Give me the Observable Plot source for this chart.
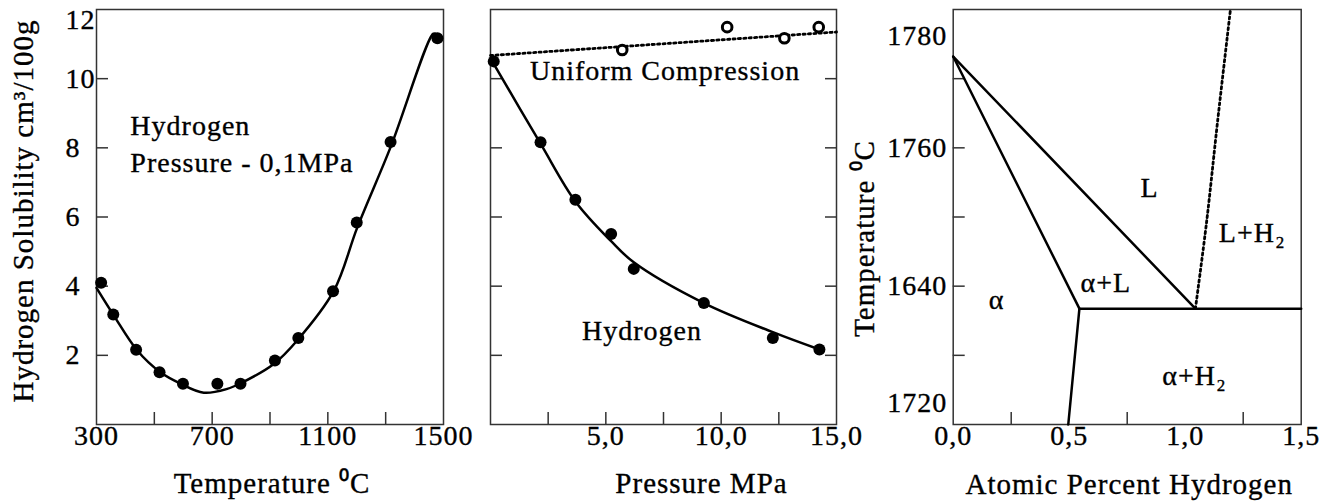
<!DOCTYPE html>
<html>
<head>
<meta charset="utf-8">
<script src="https://cdn.jsdelivr.net/npm/d3@7"></script>
<script src="https://cdn.jsdelivr.net/npm/@observablehq/plot@0.6"></script>
<style>
  html, body { margin: 0; padding: 0; background: #fff; }
  #chart { position: relative; width: 1328px; height: 504px; overflow: hidden; }
  #chart svg { position: absolute; top: 0; overflow: visible; background: transparent !important; }
  #chart svg, #chart svg text { font-family: "Liberation Serif", "Times New Roman", serif !important; letter-spacing: 1px; }
  #chart svg text { stroke: #000; stroke-width: 0.35px; }
</style>
</head>
<body>
<div id="chart"></div>
<script>
// ---------- Panel 1: solubility vs temperature (0.1 MPa) ----------
const tempMeasured   = [316, 358, 437, 518, 599, 718, 798, 917, 998, 1118, 1200, 1317, 1479];
const tempSolubility = [4.1, 3.18, 2.16, 1.51, 1.18, 1.18, 1.18, 1.85, 2.5, 3.85, 5.84, 8.17, 11.17];
const tempFitX = [300, 360, 441, 521, 591, 671, 752, 798, 913, 994, 1121, 1202, 1317, 1464, 1472];
const tempFitY = [3.95, 3.15, 2.14, 1.51, 1.18, 0.92, 1.03, 1.19, 1.75, 2.43, 3.87, 5.7, 8.02, 11.3, 11.3];
const tempTickLabels = [300, 700, 1100, 1500];
const tempMinorTicks = [500, 700, 900, 1100, 1300];
const solubilityTicks = [2, 4, 6, 8, 10];
const solubilityTopLabel = [12];
const tempNotes = ["Hydrogen", "Pressure - 0,1MPa"];
const tempNoteX = [417, 417];
const tempNoteY = [8.36, 7.3];

// ---------- Panel 2: solubility vs pressure ----------
const pressureMeasured   = [0.14, 2.17, 3.68, 5.23, 6.21, 9.25, 12.24, 14.26];
const pressureSolubility = [10.5, 8.16, 6.5, 5.51, 4.5, 3.51, 2.5, 2.17];
const pressureFitX = [0.14, 2.17, 3.68, 5.23, 6.21, 9.25, 12.24, 14.26];
const pressureFitY = [10.43, 8.12, 6.45, 5.3, 4.69, 3.51, 2.67, 2.17];
const compressionMeasured   = [5.71, 10.26, 12.74, 14.23];
const compressionSolubility = [10.83, 11.49, 11.17, 11.49];
const compressionTrendX = [0, 15];
const compressionTrendY = [10.67, 11.35];
const pressureTickLabels = [5, 10, 15];
const pressureMinorTicks = [2.5, 5, 7.5, 10, 12.5];
const pressureNotes = ["Uniform Compression", "Hydrogen"];
const pressureNoteX = [1.71, 3.97];
const pressureNoteY = [9.95, 2.43];

// ---------- Panel 3: phase diagram ----------
const atomicTickLabels = [0, 0.5, 1, 1.5];
const atomicMinorTicks = [0.25, 0.75, 1.25];
const phaseTicks = [2, 4, 6, 8, 10];
const phaseTempLabels = ["1780", "1760", "1640", "1720"];
const phaseTempLabelAt = [11.23, 8, 4, 0.62];
const boundaryNames = ["liquidus", "solidus", "eutectic", "solvus"];
const boundaryX = [[0, 1.044], [0, 0.544], [0.544, 1.5], [0.544, 0.496]];
const boundaryY = [[10.64, 3.35], [10.64, 3.35], [3.35, 3.35], [3.35, 0]];
const gasLimitX = [1.044, 1.093, 1.14, 1.195];
const gasLimitY = [3.35, 5.9, 8.79, 12];
const phaseNames  = ["L", "L+H\u2082", "\u03B1+L", "\u03B1", "\u03B1+H\u2082"];
const phaseLabelX = [0.807, 1.145, 0.549, 0.153, 0.901];
const phaseLabelY = [6.57, 5.27, 3.83, 3.35, 1.13];

// ---------- shared look ----------
const INK = "#000";
const FRAME = "#333";
const DOTTED = "2.2,3.2";
const commaFixed = d => d.toFixed(1).replace(".", ",");
const zip = (xs, ys) => xs.map((x, i) => ({x, y: ys[i]}));
const labels = (names, xs, ys) => names.map((text, i) => ({text, x: xs[i], y: ys[i]}));

function base(width, margins) {
  return {
    width, height: 504,
    ...margins,
    marginTop: 9, marginBottom: 80,
    style: {fontSize: "28px", color: INK},
    y: {domain: [0, 12], label: null},
  };
}

const inTicksX = ticks => Plot.axisX({ticks, tickSize: -12, fill: "none", stroke: FRAME, strokeWidth: 1.5, label: null});
const inTicksY = (ticks, anchor = "left") => Plot.axisY({ticks, anchor, tickSize: -12, fill: "none", stroke: FRAME, strokeWidth: 1.5, label: null});
const xLabels = (ticks, tickFormat) => Plot.axisX({ticks, tickSize: 0, tickPadding: 1, tickFormat, fontSize: 28, label: null});
const title = (text, o) => Plot.text([text], {text: d => d, fontSize: 29, fill: INK, textAnchor: "middle", ...o});

// Panel 1
const p1 = Plot.plot({
  ...base(460, {marginLeft: 96, marginRight: 17}),
  x: {domain: [300, 1500], label: null},
  marks: [
    Plot.frame({stroke: FRAME, strokeWidth: 1.5}),
    inTicksX(tempMinorTicks),
    inTicksY(solubilityTicks),
    xLabels(tempTickLabels, d => String(d)),
    Plot.axisY({ticks: solubilityTicks, tickSize: 0, tickPadding: 31, textAnchor: "start", label: null}),
    Plot.axisY({ticks: solubilityTopLabel, tickSize: 0, tickPadding: 31, textAnchor: "start", lineAnchor: "top", label: null}),
    Plot.line(zip(tempFitX, tempFitY), {x: "x", y: "y", curve: "catmull-rom", stroke: INK, strokeWidth: 2.5}),
    Plot.dot(zip(tempMeasured, tempSolubility), {x: "x", y: "y", r: 6, fill: INK, stroke: "none"}),
    Plot.text(labels(tempNotes, tempNoteX, tempNoteY), {x: "x", y: "y", text: "text", textAnchor: "start", lineAnchor: "bottom", fontSize: 28, fill: INK}),
    title("Temperature \u2070C", {frameAnchor: "bottom", lineAnchor: "bottom", dx: 2, dy: 68}),
    title("Hydrogen Solubility cm\u00B3/100g", {frameAnchor: "left", rotate: -90, lineAnchor: "bottom", dx: -64, dy: -6})
  ]
});

// Panel 2
const p2 = Plot.plot({
  ...base(400, {marginLeft: 30, marginRight: 24}),
  x: {domain: [0, 15], label: null},
  marks: [
    Plot.frame({stroke: FRAME, strokeWidth: 1.5}),
    inTicksX(pressureMinorTicks),
    inTicksY(solubilityTicks, "left"),
    inTicksY(solubilityTicks, "right"),
    xLabels(pressureTickLabels, commaFixed),
    Plot.line(zip(compressionTrendX, compressionTrendY), {x: "x", y: "y", stroke: INK, strokeWidth: 2.8, strokeDasharray: DOTTED}),
    Plot.line(zip(pressureFitX, pressureFitY), {x: "x", y: "y", curve: "catmull-rom", stroke: INK, strokeWidth: 2.5}),
    Plot.dot(zip(pressureMeasured, pressureSolubility), {x: "x", y: "y", r: 6, fill: INK, stroke: "none"}),
    Plot.dot(zip(compressionMeasured, compressionSolubility), {x: "x", y: "y", r: 4.8, fill: "#fff", stroke: INK, strokeWidth: 3}),
    Plot.text(labels(pressureNotes, pressureNoteX, pressureNoteY), {x: "x", y: "y", text: "text", textAnchor: "start", lineAnchor: "bottom", fontSize: 28, fill: INK}),
    title("Pressure MPa", {frameAnchor: "bottom", lineAnchor: "bottom", dx: 38, dy: 68})
  ]
});

// Panel 3
const boundaries = boundaryNames.flatMap((name, i) =>
  boundaryX[i].map((x, j) => ({name, x, y: boundaryY[i][j]})));
const p3 = Plot.plot({
  ...base(468, {marginLeft: 92.7, marginRight: 27.3}),
  x: {domain: [0, 1.5], label: null},
  marks: [
    Plot.frame({stroke: FRAME, strokeWidth: 1.5}),
    inTicksX(atomicMinorTicks),
    inTicksY(phaseTicks),
    xLabels(atomicTickLabels, commaFixed),
    Plot.axisY({ticks: phaseTempLabelAt, tickSize: 0, tickPadding: 6, tickFormat: d => phaseTempLabels[phaseTempLabelAt.indexOf(d)], label: null}),
    Plot.line(boundaries, {x: "x", y: "y", z: "name", stroke: INK, strokeWidth: 2.5}),
    Plot.line(zip(gasLimitX, gasLimitY), {x: "x", y: "y", curve: "catmull-rom", stroke: INK, strokeWidth: 2.8, strokeDasharray: DOTTED}),
    Plot.text(labels(phaseNames, phaseLabelX, phaseLabelY), {x: "x", y: "y", text: "text", textAnchor: "start", lineAnchor: "bottom", fontSize: 28, fill: INK}),
    title("Atomic Percent Hydrogen", {frameAnchor: "bottom", lineAnchor: "bottom", dx: 2, dy: 69}),
    title("Temperature \u2070C", {frameAnchor: "left", rotate: -90, lineAnchor: "bottom", dx: -79.4, dy: 21.5})
  ]
});

const chart = document.getElementById("chart");
[[p1, 0], [p2, 460], [p3, 860]].forEach(([svg, left]) => {
  svg.style.left = left + "px";
  chart.appendChild(svg);
});
</script>
</body>
</html>
